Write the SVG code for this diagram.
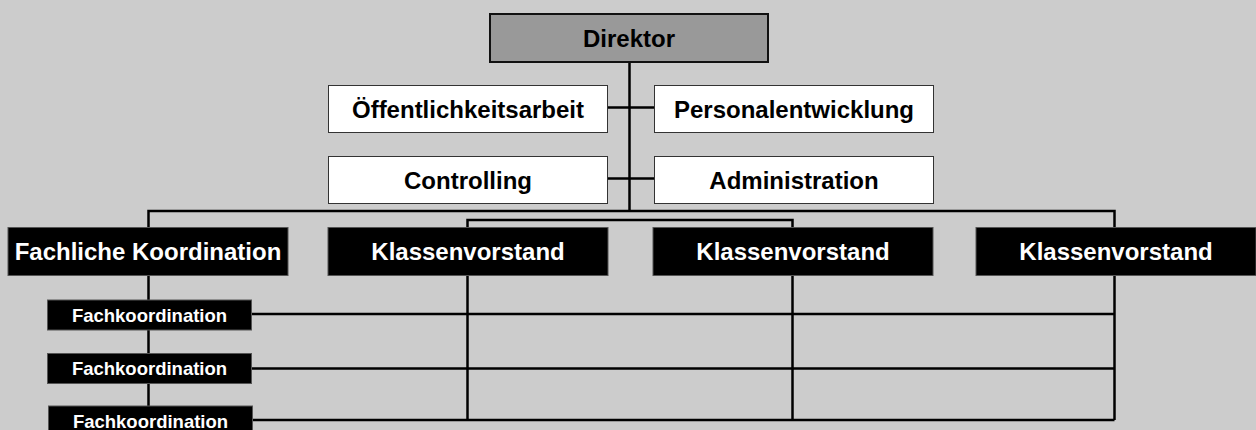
<svg xmlns="http://www.w3.org/2000/svg" width="1256" height="430" viewBox="0 0 1256 430">
<style>
.bg{fill:#cccccc}
.ln{stroke:#000;stroke-width:2.5;fill:none}
.dir{fill:#999999;stroke:#111;stroke-width:2}
.wb{fill:#fff;stroke:#333;stroke-width:1}
.bb{fill:#000;stroke:#555;stroke-width:1}
text{font-family:"Liberation Sans",Arial,sans-serif;font-weight:bold;text-anchor:middle}
.tk{fill:#000;font-size:24px}
.tw{fill:#fff;font-size:24px}
.ts{fill:#fff;font-size:18.5px}
</style>
<rect class="bg" x="0" y="0" width="1256" height="430"/>
<g id="connectors">
<line class="ln" x1="629.5" y1="62" x2="629.5" y2="211"/>
<line class="ln" x1="608" y1="107.5" x2="654" y2="107.5"/>
<line class="ln" x1="608" y1="178.5" x2="654" y2="178.5"/>
<polyline class="ln" points="148.5,406 148.5,211 1114.5,211 1114.5,420"/>
<polyline class="ln" points="467.5,420 467.5,220 792.5,220 792.5,420"/>
<line class="ln" x1="251" y1="314" x2="1114.5" y2="314"/>
<line class="ln" x1="251" y1="368.5" x2="1114.5" y2="368.5"/>
<line class="ln" x1="251" y1="420" x2="1114.5" y2="420"/>
</g>
<g id="direktor"><rect class="dir" x="490" y="14" width="278" height="48"/><text class="tk" x="629" y="46.5">Direktor</text></g>
<g id="oeffentlichkeitsarbeit"><rect class="wb" x="328.5" y="85.5" width="279" height="47"/><text class="tk" x="468" y="117.5">Öffentlichkeitsarbeit</text></g>
<g id="personalentwicklung"><rect class="wb" x="654.5" y="85.5" width="279" height="47"/><text class="tk" x="794" y="117.5">Personalentwicklung</text></g>
<g id="controlling"><rect class="wb" x="328.5" y="156.5" width="279" height="47"/><text class="tk" x="468" y="188.5">Controlling</text></g>
<g id="administration"><rect class="wb" x="654.5" y="156.5" width="279" height="47"/><text class="tk" x="794" y="188.5">Administration</text></g>
<g id="fachliche-koordination"><rect class="bb" x="8" y="227.5" width="280" height="48"/><text class="tw" x="148" y="259.5">Fachliche Koordination</text></g>
<g id="klassenvorstand-1"><rect class="bb" x="328" y="227.5" width="280" height="48"/><text class="tw" x="468" y="259.5">Klassenvorstand</text></g>
<g id="klassenvorstand-2"><rect class="bb" x="653" y="227.5" width="280" height="48"/><text class="tw" x="793" y="259.5">Klassenvorstand</text></g>
<g id="klassenvorstand-3"><rect class="bb" x="976" y="227.5" width="280" height="48"/><text class="tw" x="1116" y="259.5">Klassenvorstand</text></g>
<g id="fachkoordination-1"><rect class="bb" x="47.5" y="300" width="204" height="30"/><text class="ts" x="149.5" y="321.5">Fachkoordination</text></g>
<g id="fachkoordination-2"><rect class="bb" x="47.5" y="353.5" width="204" height="30"/><text class="ts" x="149.5" y="375">Fachkoordination</text></g>
<g id="fachkoordination-3"><rect class="bb" x="48.5" y="406" width="204" height="30"/><text class="ts" x="150.5" y="428">Fachkoordination</text></g>
</svg>
